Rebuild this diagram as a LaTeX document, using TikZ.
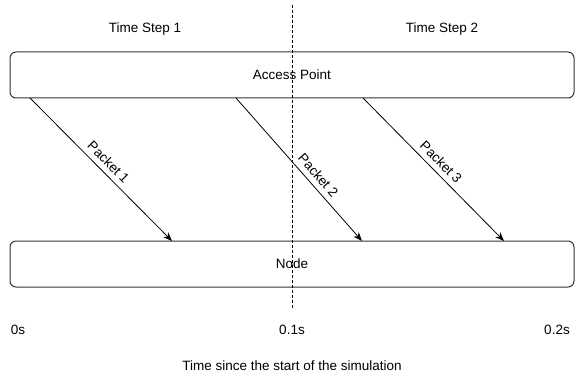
\documentclass[tikz,border=0pt]{standalone}
\usepackage{fontspec}
\setmainfont{Liberation Sans}
\usetikzlibrary{arrows.meta}
\definecolor{myGray}{HTML}{333333}

\begin{document}
\begin{tikzpicture}[x=1pt, y=-1pt, >={Stealth[length=9pt,width=7pt]}, font=\fontsize{13.5}{16}\selectfont]
  \tikzstyle{Box}=[draw=myGray, line width=1pt, rounded corners=6pt, minimum width=564pt, minimum height=46pt, inner sep=0pt]
  \tikzstyle{T}=[text=black]
  \tikzstyle{P}=[->, line width=0.8pt]

  \useasboundingbox (0,0) rectangle (576,377);

  \node[Box] at (292,75) (ap) {Access Point};
  \node[Box] at (292,264) (nd) {Node};

  % time divider
  \draw[dashed, dash pattern=on 3pt off 2pt, line width=0.8pt] (292,5) -- (292,310);

  \node[T] at (145,29) (ts1) {Time Step 1};
  \node[T] at (442,29) (ts2) {Time Step 2};

  % packet end points
  \coordinate (s1) at (30,98);
  \coordinate (e1) at (172,241);
  \coordinate (s2) at (236,98);
  \coordinate (e2) at (362,241);
  \coordinate (s3) at (363,98);
  \coordinate (e3) at (504,241);

  \draw[P] (s1) to node[sloped, above=2pt, pos=0.5] {Packet 1} (e1);
  \draw[P] (s2) to node[sloped, above=2pt, pos=0.59] {Packet 2} (e2);
  \draw[P] (s3) to node[sloped, above=2pt, pos=0.5] {Packet 3} (e3);

  \node[T] at (18,330) (t0) {0s};
  \node[T] at (292,330) (t1) {0.1s};
  \node[T] at (557,330) (t2) {0.2s};
  \node[T] at (292,366) (ax) {Time since the start of the simulation};

\end{tikzpicture}
\end{document}
